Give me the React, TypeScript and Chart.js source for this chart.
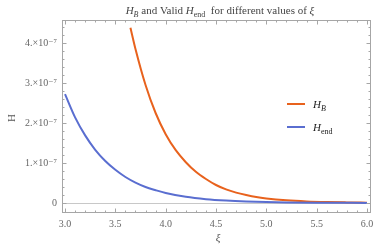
import React, { useEffect, useRef } from "react";
import { Chart, registerables } from "chart.js";

Chart.register(...registerables);

// ξ values and H values (in units of 1e-7)
const blueXi = [3.0, 3.1, 3.2, 3.3, 3.4, 3.5, 3.6, 3.7, 3.8, 3.9, 4.0, 4.2, 4.4, 4.6, 4.8, 5.0, 5.2, 5.5, 6.0];
const blueH = [2.72, 2.14, 1.69, 1.33, 1.05, 0.83, 0.65, 0.51, 0.4, 0.32, 0.25, 0.155, 0.096, 0.06, 0.037, 0.023, 0.014, 0.007, 0.002];

const orangeXi = [3.65, 3.7, 3.8, 3.9, 4.0, 4.1, 4.2, 4.3, 4.4, 4.5, 4.6, 4.7, 4.8, 4.9, 5.0, 5.2, 5.4, 5.6, 5.8, 6.0];
const orangeH = [4.38, 3.85, 2.95, 2.25, 1.72, 1.32, 1.02, 0.78, 0.6, 0.45, 0.34, 0.26, 0.2, 0.15, 0.115, 0.068, 0.04, 0.024, 0.015, 0.009];

const UNIT = 1e-7;
const yTickVals = [0, 1, 2, 3, 4];
const yTickLabels = ["0", "1.×10⁻⁷", "2.×10⁻⁷", "3.×10⁻⁷", "4.×10⁻⁷"];
const xTickVals = [3.0, 3.5, 4.0, 4.5, 5.0, 5.5, 6.0];
const xTickLabels = ["3.0", "3.5", "4.0", "4.5", "5.0", "5.5", "6.0"];

const ORANGE = "#e8621d";
const BLUE = "#5a6ed0";
const SERIF = "'Liberation Serif', 'DejaVu Serif', serif";

type Part = { t: string; italic?: boolean; sub?: boolean };

function drawRich(ctx: CanvasRenderingContext2D, parts: Part[], x: number, y: number, size: number, align: "left" | "center", color: string) {
  const fontFor = (p: Part) => `${p.italic ? "italic " : ""}${p.sub ? Math.round(size * 0.72) : size}px ${SERIF}`;
  let total = 0;
  const widths = parts.map((p) => {
    ctx.font = fontFor(p);
    const w = ctx.measureText(p.t).width;
    total += w;
    return w;
  });
  let cx = align === "center" ? x - total / 2 : x;
  ctx.fillStyle = color;
  ctx.textBaseline = "alphabetic";
  ctx.textAlign = "left";
  parts.forEach((p, i) => {
    ctx.font = fontFor(p);
    ctx.fillText(p.t, cx, y + (p.sub ? size * 0.28 : 0));
    cx += widths[i];
  });
}

const framePlugin = {
  id: "framePlugin",
  beforeDatasetsDraw(chart: any) {
    const { ctx, chartArea: a, scales } = chart;
    const ys = scales.y;
    ctx.save();
    ctx.strokeStyle = "#c8c8c8";
    ctx.lineWidth = 1;
    const y0 = Math.round(ys.getPixelForValue(0)) + 0.5;
    ctx.beginPath();
    ctx.moveTo(a.left, y0);
    ctx.lineTo(a.right, y0);
    ctx.stroke();
    ctx.restore();
  },
  afterDraw(chart: any) {
    const { ctx, chartArea: a, scales } = chart;
    const xs = scales.x;
    const ys = scales.y;
    ctx.save();
    ctx.strokeStyle = "#a6a6a6";
    ctx.lineWidth = 1;
    const L = Math.round(a.left) + 0.5;
    const R = Math.round(a.right) - 0.5;
    const T = Math.round(a.top) + 0.5;
    const B = Math.round(a.bottom) - 0.5;
    ctx.strokeRect(L, T, R - L, B - T);
    ctx.beginPath();
    for (let i = 0; i <= 30; i++) {
      const v = 3.0 + i * 0.1;
      const px = Math.round(xs.getPixelForValue(v)) + 0.5;
      const len = i % 5 === 0 ? 4 : 2;
      ctx.moveTo(px, B);
      ctx.lineTo(px, B - len);
      ctx.moveTo(px, T);
      ctx.lineTo(px, T + len);
    }
    for (let i = 0; i <= 22; i++) {
      const v = i * 0.2;
      if (v > 4.55) break;
      const py = Math.round(ys.getPixelForValue(v * UNIT)) + 0.5;
      const len = i % 5 === 0 ? 4 : 2;
      ctx.moveTo(L, py);
      ctx.lineTo(L + len, py);
      ctx.moveTo(R, py);
      ctx.lineTo(R - len, py);
    }
    ctx.stroke();

    drawRich(
      ctx,
      [
        { t: "H", italic: true },
        { t: "B", italic: true, sub: true },
        { t: " and Valid " },
        { t: "H", italic: true },
        { t: "end", sub: true },
        { t: "  for different values of " },
        { t: "ξ", italic: true },
      ],
      220,
      14,
      11,
      "center",
      "#444"
    );

    ctx.fillStyle = "#555";
    ctx.font = `11px ${SERIF}`;
    ctx.save();
    ctx.translate(12, 118);
    ctx.rotate(-Math.PI / 2);
    ctx.textAlign = "center";
    ctx.textBaseline = "middle";
    ctx.fillText("H", 0, 0);
    ctx.restore();
    ctx.font = `italic 11px ${SERIF}`;
    ctx.textAlign = "center";
    ctx.textBaseline = "middle";
    ctx.fillText("ξ", 218, 238);

    ctx.lineWidth = 2;
    ctx.strokeStyle = ORANGE;
    ctx.beginPath();
    ctx.moveTo(287, 104);
    ctx.lineTo(305, 104);
    ctx.stroke();
    ctx.strokeStyle = BLUE;
    ctx.beginPath();
    ctx.moveTo(287, 127);
    ctx.lineTo(305, 127);
    ctx.stroke();
    drawRich(ctx, [{ t: "H", italic: true }, { t: "B", italic: true, sub: true }], 313, 108, 11, "left", "#222");
    drawRich(ctx, [{ t: "H", italic: true }, { t: "end", sub: true }], 313, 131, 11, "left", "#222");
    ctx.restore();
  },
};

export default function App() {
  const ref = useRef<HTMLCanvasElement | null>(null);
  useEffect(() => {
    document.body.style.margin = "0";
    const canvas = ref.current!;
    const chart = new Chart(canvas, {
      type: "line",
      data: {
        datasets: [
          {
            label: "H_end",
            data: blueXi.map((x, i) => ({ x, y: blueH[i] * UNIT })),
            borderColor: BLUE,
            borderWidth: 2,
            pointRadius: 0,
            cubicInterpolationMode: "monotone",
            fill: false,
          },
          {
            label: "H_B",
            data: orangeXi.map((x, i) => ({ x, y: orangeH[i] * UNIT })),
            borderColor: ORANGE,
            borderWidth: 2,
            pointRadius: 0,
            cubicInterpolationMode: "monotone",
            fill: false,
          },
        ],
      },
      options: {
        responsive: false,
        animation: false,
        events: [],
        layout: { padding: { left: 0, right: 8, top: 20, bottom: 0 } },
        plugins: { legend: { display: false }, title: { display: false }, tooltip: { enabled: false } },
        scales: {
          x: {
            type: "linear",
            min: 2.97,
            max: 6.04,
            grid: { display: false, drawTicks: false },
            border: { display: false },
            ticks: {
              padding: 5,
              color: "#666",
              font: { family: SERIF, size: 10 },
              autoSkip: false,
              maxRotation: 0,
              callback: (v: any) => {
                const i = xTickVals.findIndex((t) => Math.abs(t - v) < 1e-6);
                return i >= 0 ? xTickLabels[i] : "";
              },
            },
            afterBuildTicks: (s: any) => {
              s.ticks = xTickVals.map((value) => ({ value }));
            },
            afterFit: (s: any) => {
              s.height = 36;
            },
          },
          y: {
            type: "linear",
            min: -0.25 * UNIT,
            max: 4.575 * UNIT,
            grid: { display: false, drawTicks: false },
            border: { display: false },
            ticks: {
              padding: 5,
              color: "#666",
              font: { family: SERIF, size: 10 },
              autoSkip: false,
              callback: (v: any) => {
                const i = yTickVals.findIndex((t) => Math.abs(t * UNIT - v) < 1e-12);
                return i >= 0 ? yTickLabels[i] : "";
              },
            },
            afterBuildTicks: (s: any) => {
              s.ticks = yTickVals.map((t) => ({ value: t * UNIT }));
            },
            afterFit: (s: any) => {
              s.width = 62;
            },
          },
        },
      },
      plugins: [framePlugin],
    } as any);
    return () => chart.destroy();
  }, []);
  return (
    <div style={{ position: "absolute", left: 0, top: 0, width: 379, height: 249, background: "#fff" }}>
      <canvas ref={ref} width={379} height={249} />
    </div>
  );
}
